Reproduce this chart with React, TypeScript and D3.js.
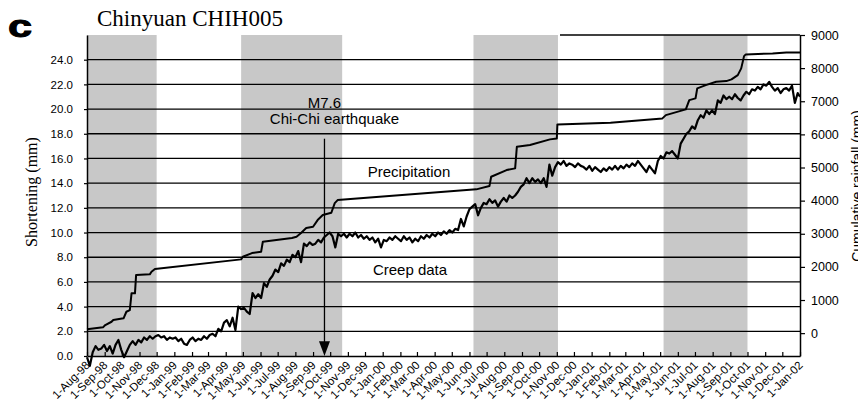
import React, { useRef, useEffect } from "react";
import * as d3 from "d3";

const parse = d3.timeParse("%Y-%m-%d");

// x extent of the record
const xStart = "1998-08-01";
const xEnd = "2002-01-01";

// shaded (wet season) periods
const bandStarts = ["1998-08-01", "1999-04-28", "2000-06-08", "2001-05-07"];
const bandEnds = ["1998-12-01", "1999-10-22", "2000-11-03", "2001-10-01"];

// axis ticks
const shortTicks = [0, 2, 4, 6, 8, 10, 12, 14, 16, 18, 20, 22, 24];
const rainTicks = [0, 1000, 2000, 3000, 4000, 5000, 6000, 7000, 8000, 9000];

// cumulative rainfall (mm), right axis
const rainDates = [
  "1998-08-01", "1998-08-29", "1998-09-02", "1998-09-13", "1998-09-16", "1998-10-04",
  "1998-10-09", "1998-10-15", "1998-10-18", "1998-10-24", "1998-10-26", "1998-11-19",
  "1998-11-22", "1998-11-28", "1999-04-28", "1999-05-01", "1999-05-17", "1999-06-02",
  "1999-06-05", "1999-07-26", "1999-08-03", "1999-08-11", "1999-08-20", "1999-09-01",
  "1999-09-09", "1999-09-18", "1999-10-03", "1999-10-09", "1999-10-14", "2000-06-13",
  "2000-07-06", "2000-07-09", "2000-08-05", "2000-08-20", "2000-08-23", "2000-09-15",
  "2000-10-20", "2000-11-01", "2000-11-02", "2001-02-03", "2001-05-05", "2001-05-11",
  "2001-06-15", "2001-06-21", "2001-07-02", "2001-07-05", "2001-07-20", "2001-08-07",
  "2001-08-25", "2001-09-03", "2001-09-14", "2001-09-20", "2001-09-25", "2001-09-28",
  "2001-11-14", "2001-12-08", "2002-01-01",
];
const rainValues = [
  115, 175, 244, 344, 395, 447,
  646, 697, 1201, 1201, 1753, 1775,
  1853, 1934, 2227, 2306, 2417, 2457,
  2758, 2870, 2909, 3021, 3172, 3211,
  3413, 3564, 3634, 3926, 4017, 4340,
  4440, 4720, 4923, 4974, 5626, 5677,
  5849, 5879, 6302, 6350, 6483, 6582,
  6754, 7035, 7086, 7388, 7488, 7587,
  7608, 7660, 7790, 7992, 8363, 8414,
  8444, 8475, 8475,
];

// creep meter shortening (mm), left axis, one reading every 5 days
const creepStart = "1998-08-01";
const creepStepDays = 5;
const creepValues = [
  -0.1, -0.8, 0.3, 0.8, 0.5, 0.6, 0.9, 0.4, 0.8, 0.2,
  0.9, 1.3, 0.5, -0.1, 0.4, 0.9, 1.2, 0.9, 1.3, 1.1,
  1.5, 1.3, 1.6, 1.4, 1.6, 1.7, 1.5, 1.6, 1.3, 1.5,
  1.4, 1.5, 1.2, 1.4, 1.0, 0.9, 1.3, 1.5, 1.2, 1.4,
  1.3, 1.6, 1.4, 1.7, 1.8, 1.6, 2.2, 2.0, 2.7, 2.9,
  2.4, 3.1, 2.1, 4.0, 3.8, 3.9, 3.6, 3.4, 5.1, 4.7,
  5.0, 4.7, 5.9, 5.6, 6.2, 6.5, 7.0, 6.8, 7.5, 7.3,
  7.8, 7.6, 8.2, 8.0, 8.5, 7.6, 9.1, 8.9, 9.2, 9.0,
  9.1, 9.4, 9.2, 9.6, 9.8, 10.0, 9.7, 8.8, 9.9, 9.7,
  9.9, 9.6, 9.9, 9.7, 10.0, 9.6, 9.8, 9.5, 9.7, 9.4,
  9.6, 9.2, 9.5, 8.8, 9.4, 9.3, 9.6, 9.4, 9.7, 9.5,
  9.3, 9.7, 9.4, 9.6, 9.2, 9.5, 9.3, 9.7, 9.5, 9.8,
  9.6, 9.9, 9.7, 10.0, 9.8, 10.1, 9.9, 10.2, 10.0, 10.3,
  10.2, 11.1, 10.5, 11.3, 11.9, 12.1, 12.3, 11.4, 12.0, 12.4,
  12.3, 12.7, 12.4, 12.6, 12.1, 12.5, 12.8, 12.5, 13.0, 12.8,
  13.0, 13.3, 13.7, 13.9, 14.4, 14.0, 14.4, 14.1, 14.3, 14.0,
  14.4, 13.7, 15.5, 14.6, 15.3, 15.7, 15.5, 15.8, 15.4, 15.6,
  15.5, 15.3, 15.6, 15.4, 15.3, 15.1, 15.4, 15.0, 15.3, 15.1,
  14.9, 15.2, 15.0, 15.3, 15.1, 15.4, 15.1, 15.4, 15.2, 15.5,
  15.3, 15.6, 15.4, 15.8, 15.5, 15.2, 14.9, 15.4, 15.1, 14.8,
  15.8, 16.2, 16.0, 16.5, 16.4, 16.6, 16.3, 16.0, 17.2, 17.6,
  18.0, 18.2, 18.6, 18.4, 19.1, 19.5, 19.3, 19.9, 19.6, 19.9,
  19.6, 20.7, 20.5, 21.1, 20.8, 21.0, 20.8, 21.2, 20.9, 20.7,
  21.1, 21.4, 21.2, 21.6, 21.5, 21.8, 21.6, 22.0, 21.9, 22.2,
  21.8, 21.5, 21.7, 21.3, 21.6, 21.7, 21.5, 21.9, 20.5, 21.3,
  21.0,
];

const quakeDate = "1999-09-21";

const ChartPanel = () => {
  const ref = useRef<SVGSVGElement | null>(null);

  useEffect(() => {
    if (!ref.current) return;
    const svg = d3.select(ref.current);
    svg.selectAll("*").remove();

    const left = 87;
    const right = 800;
    const top = 35;
    const bottom = 356;
    const sans = "'Liberation Sans', Arial, Helvetica, sans-serif";
    const serif = "'Liberation Serif', 'Times New Roman', Times, serif";

    const x = d3.scaleTime().domain([parse(xStart)!, parse(xEnd)!]).range([left, right]);
    const yL = d3.scaleLinear().domain([0, 26]).range([bottom, top]);
    const yR = d3.scaleLinear().domain([-690, 9000]).range([bottom, top]);

    // gray seasons
    svg.append("g")
      .selectAll("rect")
      .data(bandStarts)
      .join("rect")
      .attr("x", (d) => x(parse(d)!))
      .attr("y", top)
      .attr("width", (d, i) => x(parse(bandEnds[i])!) - x(parse(d)!))
      .attr("height", bottom - top)
      .attr("fill", "#c8c8c8");

    // horizontal grid
    svg.append("g")
      .selectAll("line")
      .data(shortTicks.filter((d) => d > 0))
      .join("line")
      .attr("x1", left)
      .attr("x2", right)
      .attr("y1", (d) => yL(d))
      .attr("y2", (d) => yL(d))
      .attr("stroke", "#000")
      .attr("stroke-width", 1.3);

    svg.append("line")
      .attr("x1", 560)
      .attr("x2", right)
      .attr("y1", yR(9000))
      .attr("y2", yR(9000))
      .attr("stroke", "#000")
      .attr("stroke-width", 1.3);

    // precipitation
    const rain = rainDates.map((d, i) => [parse(d)!, rainValues[i]] as [Date, number]);
    svg.append("path")
      .datum(rain)
      .attr("fill", "none")
      .attr("stroke", "#000")
      .attr("stroke-width", 2)
      .attr("stroke-linejoin", "round")
      .attr("d", d3.line<[Date, number]>().x((d) => x(d[0])).y((d) => yR(d[1])));

    // creep
    const t0 = parse(creepStart)!;
    const creep = creepValues.map(
      (v, i) => [d3.timeDay.offset(t0, i * creepStepDays), v] as [Date, number]
    );
    svg.append("path")
      .datum(creep)
      .attr("fill", "none")
      .attr("stroke", "#000")
      .attr("stroke-width", 2.2)
      .attr("stroke-linejoin", "round")
      .attr("d", d3.line<[Date, number]>().x((d) => Math.min(x(d[0]), right)).y((d) => yL(d[1])));

    // axes
    const axL = svg.append("g")
      .attr("transform", `translate(${left},0)`)
      .call(d3.axisLeft(yL).tickValues(shortTicks).tickFormat(d3.format(".1f")).tickSize(3).tickPadding(11).tickSizeOuter(0));
    axL.selectAll("text").attr("font-size", 11.5).attr("font-family", sans).attr("fill", "#000");

    const axR = svg.append("g")
      .attr("transform", `translate(${right},0)`)
      .call(d3.axisRight(yR).tickValues(rainTicks).tickFormat(d3.format("d")).tickSize(5).tickPadding(6).tickSizeOuter(0));
    axR.selectAll("text").attr("font-size", 12.5).attr("font-family", sans).attr("fill", "#000");

    const months = d3.timeMonth.range(parse(xStart)!, d3.timeDay.offset(parse(xEnd)!, 1));
    const axB = svg.append("g")
      .attr("transform", `translate(0,${bottom})`)
      .call(d3.axisBottom(x).tickValues(months).tickFormat(d3.timeFormat("%-d-%b-%y") as any).tickSizeInner(-4).tickSizeOuter(0));
    axB.selectAll("text")
      .attr("font-size", 11.5)
      .attr("font-family", sans)
      .attr("fill", "#000")
      .attr("text-anchor", "end")
      .attr("x", 0)
      .attr("y", 0)
      .attr("dy", 0)
      .attr("transform", "translate(3,10) rotate(-45)");

    [axL, axR, axB].forEach((a) => {
      a.select(".domain").attr("stroke", "#000").attr("stroke-width", 1.5);
      a.selectAll(".tick line").attr("stroke", "#000").attr("stroke-width", 1.2);
    });

    // earthquake arrow
    const qx = x(parse(quakeDate)!);
    svg.append("line")
      .attr("x1", qx)
      .attr("x2", qx)
      .attr("y1", yL(17.6))
      .attr("y2", yL(1))
      .attr("stroke", "#000")
      .attr("stroke-width", 1.3);
    svg.append("path")
      .attr("d", `M${qx - 5.5},${yL(1.2)}L${qx + 5.5},${yL(1.2)}L${qx},${yL(0)}Z`)
      .attr("fill", "#000");

    const label = (t: string, lx: number, ly: number, size = 15) =>
      svg.append("text")
        .attr("x", lx)
        .attr("y", ly)
        .attr("text-anchor", "middle")
        .attr("font-family", sans)
        .attr("font-size", size)
        .attr("fill", "#000")
        .text(t);

    label("M7.6", qx, 108);
    label("Chi-Chi earthquake", qx + 10, 124);
    label("Precipitation", 409, 177);
    label("Creep data", 410, 275);

    // titles
    svg.append("text")
      .attr("x", 97)
      .attr("y", 26)
      .attr("font-family", serif)
      .attr("font-size", 23)
      .text("Chinyuan CHIH005");

    svg.append("text")
      .attr("transform", "translate(8,37) scale(1.35,1)")
      .attr("font-family", sans)
      .attr("font-weight", "bold")
      .attr("font-size", 32)
      .attr("stroke", "#000")
      .attr("stroke-width", 1)
      .text("c");

    svg.append("text")
      .attr("transform", "translate(37,192) rotate(-90)")
      .attr("text-anchor", "middle")
      .attr("font-family", serif)
      .attr("font-size", 16)
      .text("Shortening (mm)");

    svg.append("text")
      .attr("transform", "translate(862,186) rotate(-90)")
      .attr("text-anchor", "middle")
      .attr("font-family", sans)
      .attr("font-size", 14)
      .text("Cumulative rainfall (mm)");
  }, []);

  return (
    <svg
      ref={ref}
      width={858}
      height={412}
      style={{ position: "absolute", left: 0, top: 0, background: "#fff" }}
    />
  );
};

export default function App() {
  return <ChartPanel />;
}
